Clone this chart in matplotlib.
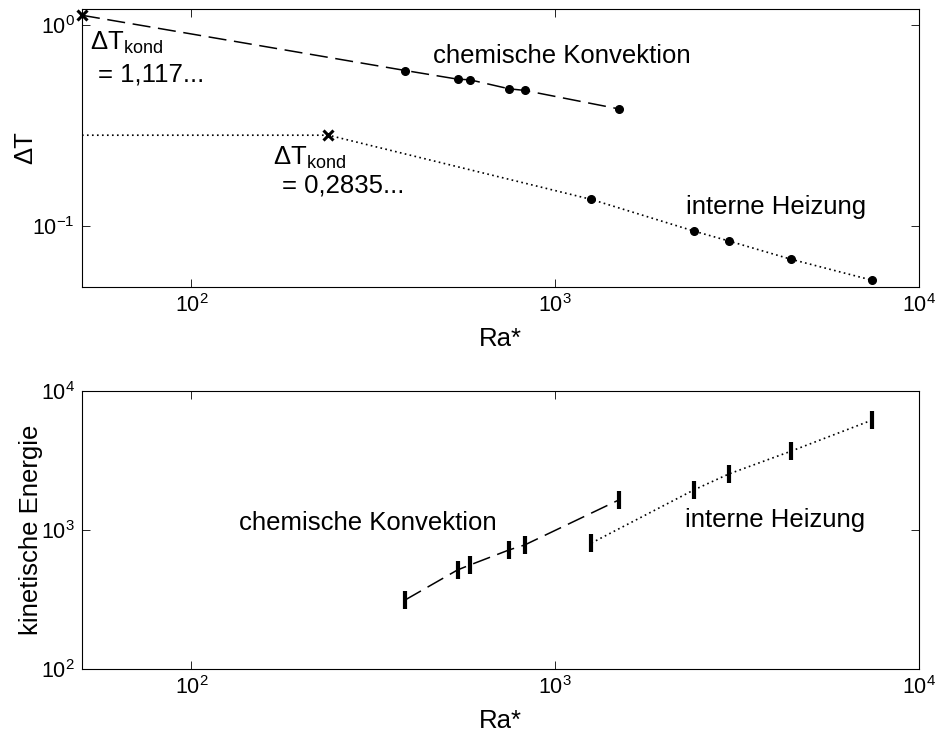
"""Delta T and kinetic energy vs Ra* for chemical convection and internal heating."""

import numpy as np
import matplotlib
matplotlib.use("Agg")
import matplotlib.pyplot as plt
from matplotlib.ticker import NullLocator

plt.rcParams["font.family"] = ["Liberation Sans", "DejaVu Sans"]
plt.rcParams["mathtext.fontset"] = "custom"
plt.rcParams["mathtext.rm"] = "Liberation Sans"
plt.rcParams["mathtext.it"] = "Liberation Sans:italic"
plt.rcParams["mathtext.bf"] = "Liberation Sans:bold"
plt.rcParams["lines.scale_dashes"] = False

# ============================================================
# Data
# ============================================================
ra_chem = [387, 539, 583, 746, 824, 1495]
dT_chem = [0.594, 0.538, 0.534, 0.482, 0.473, 0.383]
ekin_chem = [314, 516, 560, 718, 780, 1643]

ra_heat = [1258, 2404, 3001, 4443, 7439]
dT_heat = [0.136, 0.0948, 0.0846, 0.0687, 0.054]
ekin_heat = [806, 1940, 2529, 3684, 6183]

# conduction states (crosses)
ra_kond_chem, dT_kond_chem = 50, 1.117
ra_kond_heat, dT_kond_heat = 238, 0.2835

label_chem = "chemische Konvektion"
label_heat = "interne Heizung"

DASH = (13, 5.5)
DOT = (1.2, 2.4)
FS_TEXT = 18.5
FS_TICK = 15.5


def style_axes(ax, ylim, yticks):
    ax.set_xscale("log")
    ax.set_yscale("log")
    ax.set_xlim(50, 1e4)
    ax.set_ylim(*ylim)
    ax.set_xticks([1e2, 1e3, 1e4])
    ax.set_yticks(yticks)
    ax.xaxis.set_minor_locator(NullLocator())
    ax.yaxis.set_minor_locator(NullLocator())
    ax.tick_params(which="major", direction="in", length=5.5, width=0.6,
                   top=True, right=True, labelsize=FS_TICK, pad=5)
    for sp in ax.spines.values():
        sp.set_linewidth(0.8)
    ax.set_xlabel("Ra*", fontsize=FS_TEXT)
    ax.xaxis.set_label_coords(0.5, -0.145)


fig = plt.figure(figsize=(9.41, 7.37), dpi=100)
ax1 = fig.add_axes([0.0871, 0.6106, 0.8895, 0.3772])
ax2 = fig.add_axes([0.0871, 0.0923, 0.8895, 0.3772])

# ============================================================
# Top: Delta T
# ============================================================
ax1.plot([ra_kond_chem] + ra_chem, [dT_kond_chem] + dT_chem, color="k",
         lw=1.1, dashes=DASH)
ax1.plot(ra_chem, dT_chem, "o", color="k", ms=5.5, ls="none")
ax1.plot([50, ra_kond_heat] + ra_heat, [dT_kond_heat, dT_kond_heat] + dT_heat,
         color="k", lw=1.2, dashes=DOT)
ax1.plot(ra_heat, dT_heat, "o", color="k", ms=5.5, ls="none")
ax1.plot([ra_kond_chem, ra_kond_heat], [dT_kond_chem, dT_kond_heat], "x",
         color="k", ms=6.5, mew=2.2, ls="none", clip_on=False, zorder=5)

style_axes(ax1, (0.05, 1.2), [0.1, 1.0])
ax1.set_ylabel("ΔT", fontsize=FS_TEXT)
ax1.yaxis.set_label_coords(-0.054, 0.5)

ax1.text(460, 0.648, label_chem, fontsize=FS_TEXT, va="baseline")
ax1.text(2286, 0.1147, label_heat, fontsize=FS_TEXT, va="baseline")
ax1.text(52.7, 0.752, r"ΔT$_{\mathregular{kond}}$", fontsize=FS_TEXT, va="baseline")
ax1.text(55.5, 0.522, "= 1,117...", fontsize=FS_TEXT, va="baseline")
ax1.text(168, 0.2028, r"ΔT$_{\mathregular{kond}}$", fontsize=FS_TEXT, va="baseline")
ax1.text(177, 0.1474, "= 0,2835...", fontsize=FS_TEXT, va="baseline")

# ============================================================
# Bottom: kinetic energy
# ============================================================
ax2.plot(ra_chem, ekin_chem, color="k", lw=1.1, dashes=DASH)
ax2.plot(ra_chem, ekin_chem, "|", color="k", ms=13, mew=3, ls="none")
ax2.plot(ra_heat, ekin_heat, color="k", lw=1.2, dashes=DOT)
ax2.plot(ra_heat, ekin_heat, "|", color="k", ms=13, mew=3, ls="none")

style_axes(ax2, (1e2, 1e4), [1e2, 1e3, 1e4])
ax2.set_ylabel("kinetische Energie", fontsize=FS_TEXT)
ax2.yaxis.set_label_coords(-0.047, 0.5)

ax2.text(135.5, 1000, label_chem, fontsize=FS_TEXT, va="baseline")
ax2.text(2271, 1051, label_heat, fontsize=FS_TEXT, va="baseline")

fig.savefig("out.png", dpi=100)
